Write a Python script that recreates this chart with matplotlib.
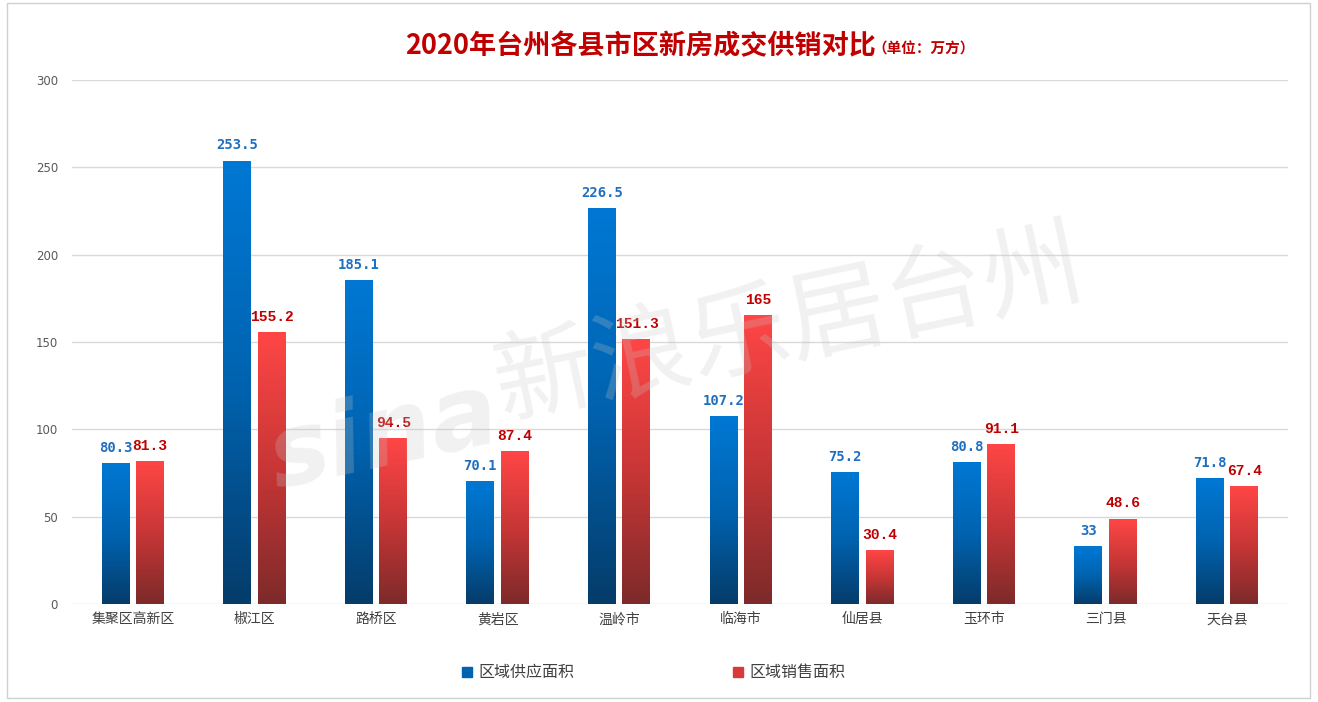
import numpy as np
import matplotlib
matplotlib.use("Agg")
import matplotlib.pyplot as plt
from matplotlib.colors import LinearSegmentedColormap
from matplotlib.patches import Rectangle

plt.rcParams['font.family'] = ['Noto Sans CJK SC', 'DejaVu Sans']

# Data
districts = ["集聚区高新区", "椒江区", "路桥区", "黄岩区", "温岭市",
             "临海市", "仙居县", "玉环市", "三门县", "天台县"]
supply = [80.3, 253.5, 185.1, 70.1, 226.5, 107.2, 75.2, 80.8, 33, 71.8]
sales = [81.3, 155.2, 94.5, 87.4, 151.3, 165, 30.4, 91.1, 48.6, 67.4]
supply_labels = ["80.3", "253.5", "185.1", "70.1", "226.5",
                 "107.2", "75.2", "80.8", "33", "71.8"]
sales_labels = ["81.3", "155.2", "94.5", "87.4", "151.3",
                "165", "30.4", "91.1", "48.6", "67.4"]
yticks = [0, 50, 100, 150, 200, 250, 300]

W, H = 1318, 702
fig = plt.figure(figsize=(W / 100, H / 100), dpi=100)
fig.patch.set_facecolor("white")

# chart frame
fig.patches.append(Rectangle((7 / W, 1 - 698 / H), 1303 / W, 695 / H,
                             transform=fig.transFigure, fill=False,
                             edgecolor="#d0d0d0", linewidth=1))

ax = fig.add_axes([72 / W, (H - 604) / H, 1216 / W, 524 / H])

blue_cmap = LinearSegmentedColormap.from_list("b", ["#053c6a", "#0063b0", "#0078d4"])
red_cmap = LinearSegmentedColormap.from_list("r", ["#7d2a2a", "#c83636", "#ff4646"])
grad = np.linspace(0, 1, 256).reshape(-1, 1)

bw = 0.23
off = 0.142
x = np.arange(len(districts))

for i in range(len(districts)):
    for val, cmap, dx in ((supply[i], blue_cmap, -off), (sales[i], red_cmap, off)):
        x0 = x[i] + dx - bw / 2
        ax.imshow(grad, cmap=cmap, origin="lower", aspect="auto",
                  extent=[x0, x0 + bw, 0, val], zorder=2)
    ax.text(x[i] - off, supply[i] + 5, supply_labels[i], ha="center", va="bottom",
            fontsize=10, fontweight="bold", color="#1f6fc0",
            family="DejaVu Sans Mono")
    ax.text(x[i] + off, sales[i] + 5, sales_labels[i], ha="center", va="bottom",
            fontsize=10.5, fontweight="bold", color="#c00000",
            family="Liberation Mono")

ax.set_xlim(-0.5, len(districts) - 0.5)
ax.set_ylim(0, 300)
ax.set_yticks(yticks)
ax.set_xticks(x)
ax.set_xticklabels(districts, fontsize=10, color="#404040")
ax.tick_params(axis="y", labelsize=8.5, colors="#595959", length=0, pad=10)
ax.tick_params(axis="x", length=0, pad=6)
for lbl in ax.get_yticklabels():
    lbl.set_family("DejaVu Sans")
ax.grid(axis="y", color="#d9d9d9", linewidth=1, zorder=0)
ax.set_axisbelow(True)
for s in ax.spines.values():
    s.set_visible(False)

# title
fig.text(405 / W, 1 - 46 / H, "2020年台州各县市区新房成交供销对比", ha="left",
         va="center", fontsize=19.5, fontweight="bold", color="#c00000")
fig.text(872 / W, 1 - 49 / H, "（单位：万方）", ha="left", va="center",
         fontsize=10.5, fontweight="bold", color="#c00000")

# legend
fig.patches.append(Rectangle((462 / W, 1 - 677 / H), 10 / W, 10 / H,
                             transform=fig.transFigure, color="#0063b0"))
fig.text(478 / W, 1 - 672 / H, "区域供应面积", ha="left", va="center",
         fontsize=11.5, color="#404040")
fig.patches.append(Rectangle((733 / W, 1 - 677 / H), 10 / W, 10 / H,
                             transform=fig.transFigure, color="#d83a3a"))
fig.text(749 / W, 1 - 672 / H, "区域销售面积", ha="left", va="center",
         fontsize=11.5, color="#404040")

# watermark
fig.text(260 / W, 1 - 510 / H, "sina", fontsize=72, fontweight="bold",
         style="italic", color="#c8c8c8", alpha=0.25, rotation=12,
         ha="left", va="bottom", family="DejaVu Sans", zorder=10)
fig.text(485 / W, 1 - 440 / H, "新浪乐居台州", fontsize=72, color="#c8c8c8",
         alpha=0.25, rotation=12, ha="left", va="bottom", zorder=10)

plt.savefig("out.png", dpi=100)
